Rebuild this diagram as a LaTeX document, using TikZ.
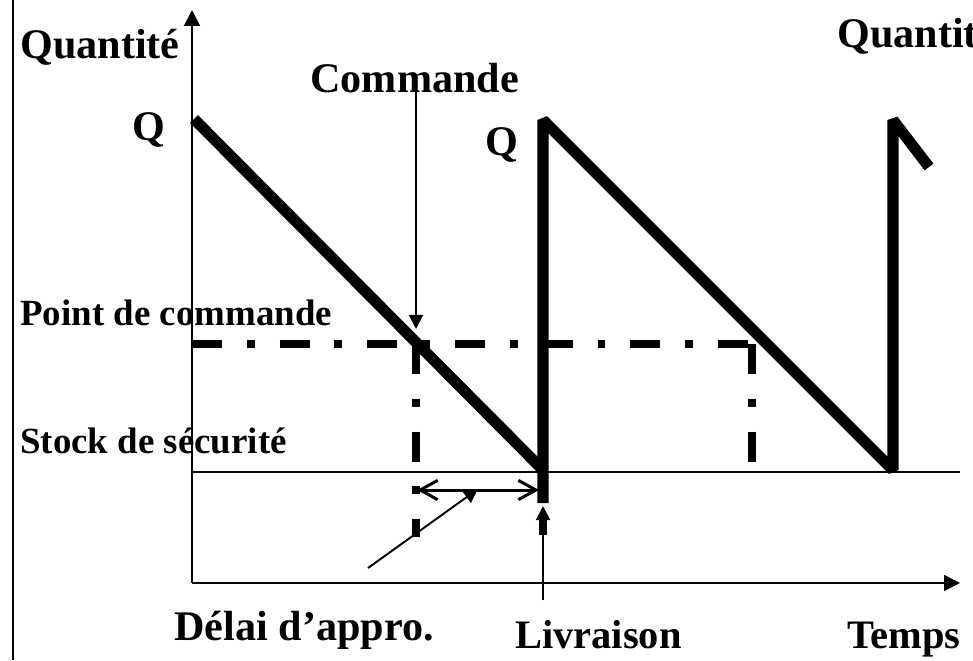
\documentclass[tikz,border=0pt]{standalone}
\usepackage{fontspec}
\setmainfont{Liberation Serif}
\usetikzlibrary{arrows.meta}
\tikzset{
  titre/.style={font=\fontsize{24}{28}\selectfont\bfseries, inner sep=0pt, anchor=base west},
  niveau/.style={font=\fontsize{21}{25}\selectfont\bfseries, inner sep=0pt, anchor=base west},
  legende/.style={font=\fontsize{23}{27}\selectfont\bfseries, inner sep=0pt, anchor=base west},
  axe/.style={line width=1.1pt, -{Triangle[length=9pt, width=9pt]}},
  trait/.style={line width=1.1pt},
  stock/.style={line width=6.3pt, line join=bevel},
  seuil/.style={line width=4.5pt, dash pattern=on 17pt off 14.2pt on 4.5pt off 14.2pt},
  fleche/.style={line width=1.1pt, -{Triangle[length=8pt, width=8pt]}},
  delai/.style={line width=1.7pt, {Straight Barb[length=10pt, width=11pt]}-{Straight Barb[length=10pt, width=11pt]}},
}
\begin{document}
\begin{tikzpicture}[x=0.02cm, y=-0.02cm]
  \clip (0,0) rectangle (973,660);
  % axes et niveaux
  \coordinate (bordH) at (13,0);
  \coordinate (bordB) at (13,660);
  \coordinate (O)    at (192,583);
  \coordinate (Ymax) at (192,10);
  \coordinate (Xmax) at (960,583);
  \coordinate (S0)   at (192,472);
  \coordinate (S1)   at (960,472);
  \coordinate (P0)   at (192,344);
  \coordinate (P1)   at (754,344);
  \coordinate (P1b)  at (752,344);
  \coordinate (P2)   at (752,465);
  \coordinate (C0)   at (416,344);
  \coordinate (C1)   at (416,537);
  \coordinate (L0)   at (543,344);
  \coordinate (L1)   at (543,535);
  % dents de scie
  \coordinate (A0) at (194,119);
  \coordinate (A1) at (543,470);
  \coordinate (A2) at (543,503);
  \coordinate (A3) at (543,120);
  \coordinate (A4) at (893,470);
  \coordinate (A5) at (893,120);
  \coordinate (A6) at (929,167);
  % textes
  \node[titre] (qte)  at (20,58)   {Quantité};
  \node[titre] (qte2) at (837,47)  {Quantité};
  \node[titre] (q1)   at (132,140) {Q};
  \node[titre] (q2)   at (485,155) {Q};
  \node[titre] (cmd)  at (310,92)  {Commande};
  \node[niveau] (pc)  at (20,325)  {Point de commande};
  \node[niveau] (ss)  at (20,453)  {Stock de sécurité};
  \node[titre] (da)   at (174,640) {Délai d’appro.};
  \node[legende] (li) at (515,648) {Livraison};
  \node[legende] (te) at (847,648) {Temps};
  % traits
  \draw[trait] (bordH) -- (bordB);
  \draw[trait] (S0) -- (S1);
  \draw[axe] (O) -- (Ymax);
  \draw[axe] (O) -- (Xmax);
  \draw[seuil] (P0) -- (P1);
  \draw[seuil] (P1b) -- (P2);
  \draw[seuil] (C0) -- (C1);
  \draw[seuil] (L0) -- (L1);
  \draw[stock] (A0) -- (A1);
  \draw[stock] (A2) -- (A3) -- (A4) -- (A5) -- (A6);
  % fleches
  \coordinate (cmdH) at (416,88);
  \coordinate (cmdB) at (416,329);
  \draw[fleche] (cmdH) -- (cmdB);
  \coordinate (d0) at (417,490);
  \coordinate (d1) at (539,490);
  \draw[delai] (d0) -- (d1);
  \coordinate (f0) at (368,568);
  \coordinate (f1) at (478,489);
  \draw[fleche] (f0) -- (f1);
  \coordinate (liB) at (543,600);
  \coordinate (liH) at (543,506);
  \draw[fleche] (liB) -- (liH);
\end{tikzpicture}
\end{document}
